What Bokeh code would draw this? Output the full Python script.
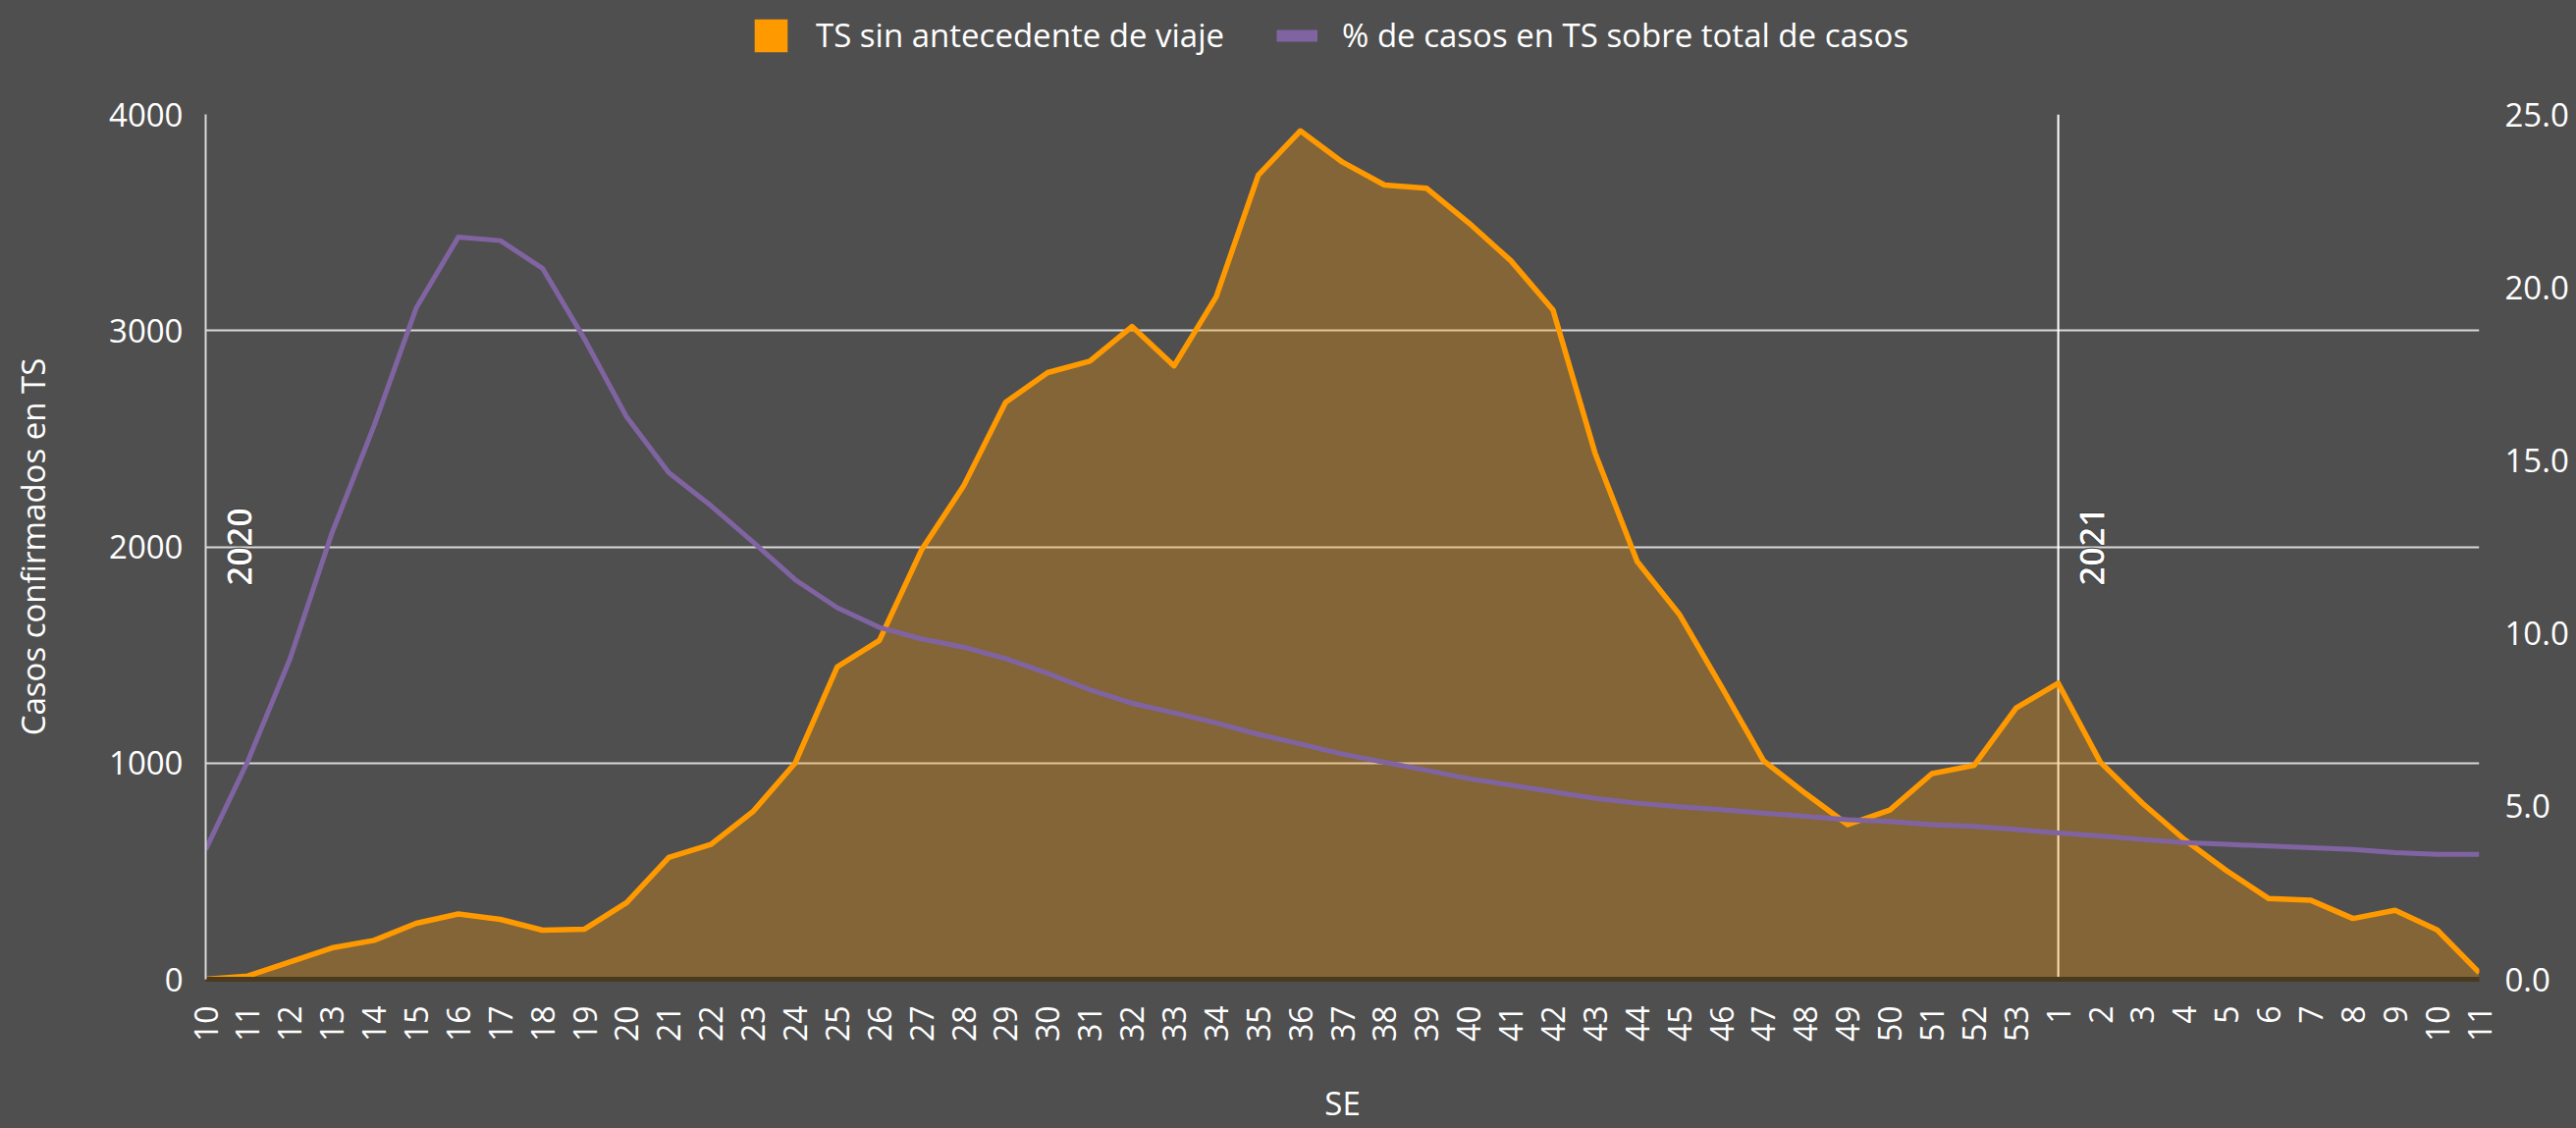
from math import pi
from bokeh.plotting import figure
from bokeh.layouts import column
from bokeh.models import (Range1d, LinearAxis, FixedTicker, NumeralTickFormatter,
                          Legend, LegendItem, Span, ColumnDataSource)
from bokeh.core.properties import value
from bokeh.embed import file_html
from bokeh.resources import INLINE

# ---- data ----
weeks = [str(w) for w in range(10, 54)] + [str(w) for w in range(1, 12)]
ts_sin_viaje = [0, 15, 80, 145, 180, 259, 302, 277, 227, 232,
                355, 564, 624, 776, 1000, 1445, 1567, 1985, 2281, 2669,
                2806, 2859, 3019, 2837, 3156, 3719, 3924, 3779, 3673, 3658,
                3498, 3323, 3095, 2433, 1932, 1688, 1354, 1011, 859, 715,
                783, 951, 989, 1255,
                1369, 1004, 814, 646, 502, 373, 365, 281, 319, 228, 30]
pct_ts = [3.75, 6.3, 9.25, 12.9, 16.0, 19.4, 21.45, 21.35, 20.55, 18.5,
          16.25, 14.64, 13.69, 12.64, 11.55, 10.74, 10.17, 9.84, 9.6, 9.27,
          8.84, 8.37, 7.98, 7.7, 7.41, 7.08, 6.8, 6.51, 6.27, 6.04,
          5.8, 5.61, 5.42, 5.23, 5.09, 4.99, 4.9, 4.8, 4.71, 4.61,
          4.56, 4.47, 4.42, 4.33,
          4.23, 4.14, 4.04, 3.95, 3.9, 3.85, 3.8, 3.75, 3.66, 3.61, 3.61]
year_labels = ["2020", "2021"]
year_start_weeks = ["10", "1"]
left_ticks = [0, 1000, 2000, 3000, 4000]
right_ticks = [0, 5, 10, 15, 20, 25]
series_names = ["TS sin antecedente de viaje", "% de casos en TS sobre total de casos"]

BG = "#4f4f4f"
ORANGE = "#FF9900"
PURPLE = "#8064A2"
GRID = "#D9D9D9"
FONT = "Open Sans"

W, H_LEG, H_MAIN = 2624, 86, 1063

idx = list(range(len(weeks)))
src = ColumnDataSource(dict(x=idx, ts=ts_sin_viaje, pct=pct_ts, zero=[0] * len(idx)))

# ---------------- legend strip ----------------
lg = figure(width=W, height=H_LEG, output_backend="svg", toolbar_location=None,
            x_range=Range1d(0, 1), y_range=Range1d(0, 1),
            x_axis_type=None, y_axis_type=None,
            min_border_left=0, min_border_right=0, min_border_top=0, min_border_bottom=0)
lg.background_fill_color = BG
lg.border_fill_color = BG
lg.outline_line_color = None
lg.grid.grid_line_color = None
# swatch renderers: their marks lie outside the visible range, only the legend shows them
sw = lg.quad(left=[5], right=[6], top=[6], bottom=[5], fill_color=ORANGE, line_color=None)
sl = lg.line(x=[5, 6], y=[5, 5], line_color=PURPLE, line_width=12)
legend = Legend(items=[LegendItem(label=series_names[0], renderers=[sw]),
                       LegendItem(label=series_names[1], renderers=[sl])],
                orientation="horizontal", location=(555, 28),
                glyph_width=42, glyph_height=42, label_standoff=25, spacing=53,
                padding=0, margin=0, border_line_color=None,
                background_fill_alpha=0,
                label_text_font=FONT, label_text_font_size="33px",
                label_text_color="white")
lg.add_layout(legend, "center")

# ---------------- main chart ----------------
p = figure(width=W, height=H_MAIN, output_backend="svg", toolbar_location=None,
           x_range=Range1d(0, len(weeks) - 1), y_range=Range1d(0, 4000),
           min_border_left=209, min_border_right=99, min_border_top=30, min_border_bottom=152)
p.background_fill_color = BG
p.border_fill_color = BG
p.outline_line_color = None
p.extra_y_ranges = {"pct": Range1d(0, 25)}

p.xgrid.grid_line_color = None
p.ygrid.grid_line_color = GRID
p.ygrid.grid_line_width = 2

i2021 = weeks.index(year_start_weeks[1], 1)
p.add_layout(Span(location=i2021, dimension="height", line_color="white",
                  line_width=2, level="underlay"))

p.varea(x="x", y1="zero", y2="ts", source=src, fill_color=ORANGE, fill_alpha=0.3)
p.line(x="x", y="ts", source=src, line_color=ORANGE, line_width=5.5, line_join="round")
p.line(x="x", y="pct", source=src, y_range_name="pct", line_color=PURPLE, line_width=5,
       line_join="round")

year_x = [weeks.index(year_start_weeks[0]) + 0.8, i2021 + 0.8]
p.text(x=year_x, y=[2000, 2000], text=year_labels, angle=pi / 2,
       text_align="center", text_baseline="middle",
       text_font=value(FONT), text_font_size="35px", text_font_style="bold",
       text_color="white", text_outline_color="#3c3c3c")

xa = p.xaxis[0]
xa.ticker = FixedTicker(ticks=idx)
xa.major_label_overrides = {i: w for i, w in zip(idx, weeks)}
xa.major_label_orientation = pi / 2
xa.major_label_text_font = FONT
xa.major_label_text_font_size = "32px"
xa.major_label_text_color = "white"
xa.major_label_standoff = 21
xa.major_tick_line_color = None
xa.minor_tick_line_color = None
xa.axis_line_color = "#4a3a20"
xa.axis_line_width = 5
xa.axis_label = "SE"
xa.axis_label_text_font = FONT
xa.axis_label_text_font_size = "33px"
xa.axis_label_text_font_style = "normal"
xa.axis_label_text_color = "white"
xa.axis_label_standoff = 37

ya = p.yaxis[0]
ya.ticker = FixedTicker(ticks=left_ticks)
ya.major_label_text_font = FONT
ya.major_label_text_font_size = "33px"
ya.major_label_text_color = "white"
ya.major_label_standoff = 17
ya.major_tick_line_color = None
ya.minor_tick_line_color = None
ya.axis_line_color = GRID
ya.axis_line_width = 2
ya.axis_label = "Casos confirmados en TS"
ya.axis_label_text_font = FONT
ya.axis_label_text_font_size = "33px"
ya.axis_label_text_font_style = "normal"
ya.axis_label_text_color = "white"
ya.axis_label_standoff = 52

ra = LinearAxis(y_range_name="pct", ticker=FixedTicker(ticks=right_ticks),
                formatter=NumeralTickFormatter(format="0.0"))
ra.major_label_text_font = FONT
ra.major_label_text_font_size = "33px"
ra.major_label_text_color = "white"
ra.major_label_standoff = 20
ra.major_tick_line_color = None
ra.minor_tick_line_color = None
ra.axis_line_color = None
p.add_layout(ra, "right")

page = column(lg, p, spacing=0)
html = file_html(page, INLINE, template="{% block preamble %}<style>body{background-color:#4f4f4f;}</style>{% endblock %}")
open("out.html", "w").write(html)
